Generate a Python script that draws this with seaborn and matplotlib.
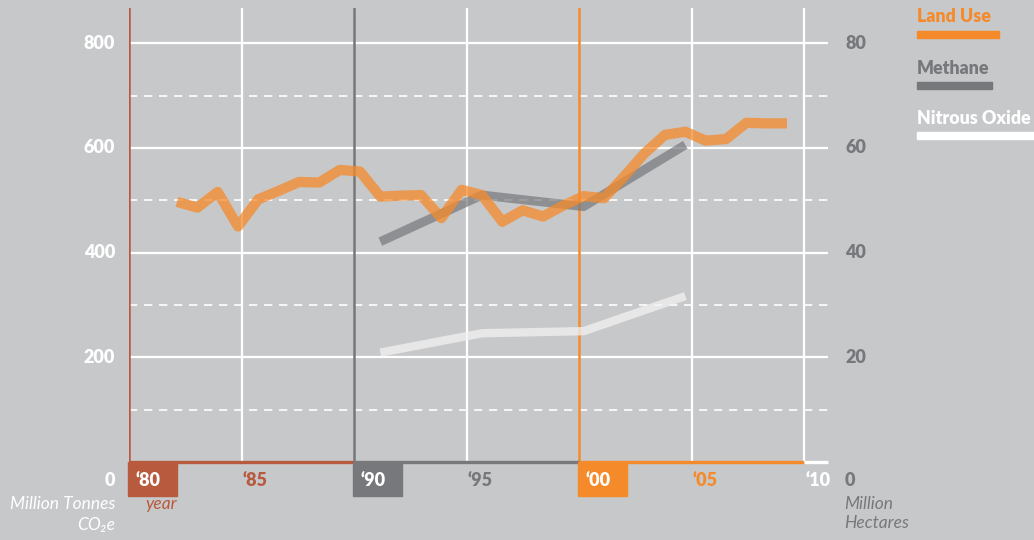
import numpy as np
import pandas as pd
import seaborn as sns
import matplotlib.pyplot as plt
from matplotlib.patches import Rectangle

# data
land_years = list(range(1980, 2011))
land_use = [497, 486, 516, 450, 502, 518, 535, 534, 558, 555,
            507, 509, 510, 466, 520, 510, 459, 481, 469, 490,
            508, 504, 546, 590, 625, 631, 614, 617, 648, 647, 647]
gas_years = [1990, 1995, 2000, 2005]
methane = [421, 510, 488, 606]
nitrous = [209, 246, 250, 317]

tick_years = [1980, 1985, 1990, 1995, 2000, 2005, 2010]
tick_labels = ['\u201880', '\u201885', '\u201890', '\u201895', '\u201800', '\u201805', '\u201810']
left_ticks = [0, 200, 400, 600, 800]
right_ticks = ['0', '20', '40', '60', '80']

BG = '#c7c8ca'
RUST = '#b85a3e'
GREY = '#77787b'
ORANGE = '#f58a2a'
WHITE = '#ffffff'

sns.set_style('white', {'axes.facecolor': BG, 'figure.facecolor': BG})
plt.rcParams['font.family'] = ['Lato', 'DejaVu Sans']

W, H = 1034, 540
fig = plt.figure(figsize=(W / 100, H / 100), dpi=100)

def px(x, y):
    return x / W, (H - y) / H

l, b = px(129, 462)
r, t = px(828, 8)
ax = fig.add_axes([l, b, r - l, t - b])
ax.set_xlim(1980, 1980 + 699 / 22.5)
ax.set_ylim(0, 454 / 0.5234)
for s in ax.spines.values():
    s.set_visible(False)
ax.set_xticks([])
ax.set_yticks([])

# grid
for v in [200, 400, 600, 800]:
    ax.axhline(v, color=WHITE, lw=1.6, zorder=1)
for v in [100, 300, 500, 700]:
    ax.axhline(v, color=WHITE, lw=1.2, ls=(0, (5, 4)), zorder=1)
for yr in [1985, 1995, 2005, 2010]:
    ax.axvline(yr, color=WHITE, lw=1.6, zorder=1)

# decade markers and base line
decades = [(1980, 1990, RUST), (1990, 2000, GREY), (2000, 2010, ORANGE)]
xt = ax.get_xaxis_transform()
for x0, x1, c in decades:
    ax.axvline(x0, color=c, lw=1.8, zorder=2)
    ax.hlines(0, x0, x1, color=c, lw=2.4, zorder=3, clip_on=False)
    ax.add_patch(Rectangle((x0 - 0.04, -34 / 454), 49 / 22.5, 34 / 454,
                           transform=xt, color=c, clip_on=False, zorder=3))
ax.hlines(0, 2010, ax.get_xlim()[1], color=WHITE, lw=2.4, zorder=3, clip_on=False)

label_colors = [WHITE, RUST, WHITE, GREY, WHITE, ORANGE, WHITE]
for yr, lab, c in zip(tick_years, tick_labels, label_colors):
    off = 0.3 if yr in (1980, 1990, 2000) else 0.05
    ax.text(yr + off, -18 / 454, lab, transform=xt, color=c, fontsize=13,
            fontweight='heavy', ha='left', va='center')

# y labels
for v, rl in zip(left_ticks, right_ticks):
    yy = v if v > 0 else -18 / 0.5234
    ax.text(-14 / 22.5 + 1980, yy, str(v), color=WHITE, fontsize=13,
            fontweight='heavy', ha='right', va='center', clip_on=False)
    ax.text(1980 + 716 / 22.5, yy, rl, color=GREY, fontsize=13,
            fontweight='heavy', ha='left', va='center', clip_on=False)

fig.text(*px(115, 504), 'Million Tonnes', color=WHITE, fontsize=12.5, style='italic',
         ha='right', va='center')
fig.text(*px(115, 525), 'CO\u2082e', color=WHITE, fontsize=12.5, style='italic',
         ha='right', va='center')
fig.text(*px(177, 504), 'year', color=RUST, fontsize=12.5, style='italic',
         ha='right', va='center')
fig.text(*px(844, 504), 'Million', color=GREY, fontsize=12.5, style='italic',
         ha='left', va='center')
fig.text(*px(844, 523), 'Hectares', color=GREY, fontsize=12.5, style='italic',
         ha='left', va='center')

# data axis (the series sit on their own year scale)
ax2 = ax.twiny()
ax2.set_xlim(1980 - 48 / 20.333, 1980 + 651 / 20.333)
ax2.set_ylim(ax.get_ylim())
ax2.set_xticks([])
for s in ax2.spines.values():
    s.set_visible(False)

df_land = pd.DataFrame({'year': land_years, 'value': land_use})
df_gas = pd.DataFrame({'year': gas_years, 'methane': methane, 'nitrous': nitrous})
sns.lineplot(data=df_land, x='year', y='value', ax=ax2, color=ORANGE, alpha=0.75,
             lw=7.4, solid_capstyle='butt', zorder=5)
sns.lineplot(data=df_gas, x='year', y='methane', ax=ax2, color=GREY, alpha=0.7,
             lw=6.5, solid_capstyle='butt', zorder=4)
sns.lineplot(data=df_gas, x='year', y='nitrous', ax=ax2, color='#f2f2f2', alpha=0.75,
             lw=6.0, solid_capstyle='butt', zorder=4)
ax2.set_xlabel('')
ax2.set_ylabel('')
ax2.set_yticks([])

# legend
legend = [('Land Use', ORANGE, 17, 34, 82), ('Methane', GREY, 68, 85, 75),
          ('Nitrous Oxide', WHITE, 118, 135, 130)]
for name, c, ty, by, bw in legend:
    fig.text(*px(917, ty), name, color=c, fontsize=12.8, fontweight='heavy',
             ha='left', va='center')
    x0, y0 = px(917, by + 3.5)
    fig.add_artist(Rectangle((x0, y0), bw / W, 7 / H, transform=fig.transFigure,
                             color=c))

fig.savefig('out.png', dpi=100, facecolor=BG)
